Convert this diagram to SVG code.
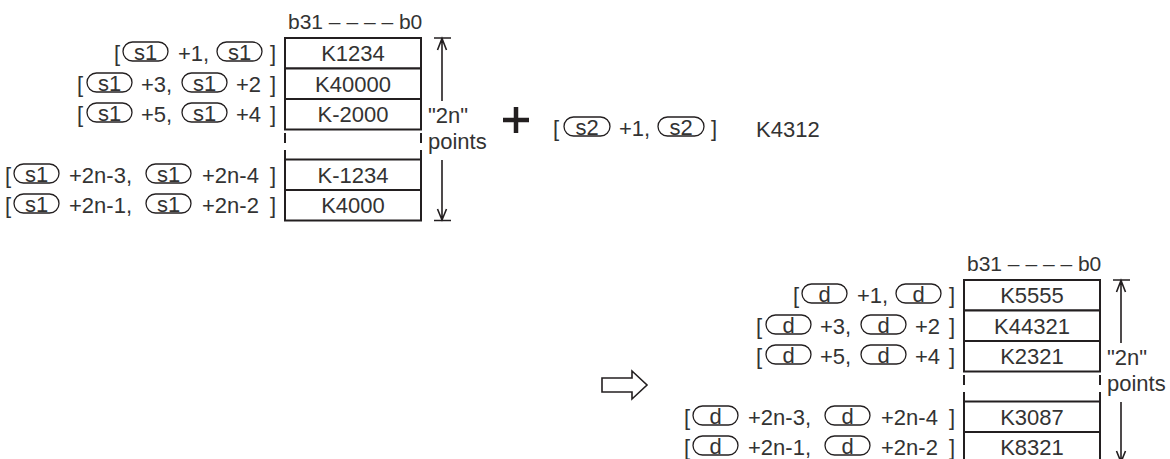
<svg xmlns="http://www.w3.org/2000/svg" width="1170" height="459" viewBox="0 0 1170 459">
<style>
.t{font-family:"Liberation Sans",Arial,Helvetica,sans-serif;font-size:22px;fill:#333}
.h{font-size:21px}
.c{text-anchor:middle}
.box{fill:#fff;stroke:#231f20;stroke-width:2}
.pill{fill:none;stroke:#231f20;stroke-width:1.3}
.ln{fill:none;stroke:#231f20;stroke-width:1.6}
.dl{fill:none;stroke:#231f20;stroke-width:2}
</style>
<rect width="1170" height="459" fill="#fff"/>

<!-- ===== TOP SOURCE BLOCK ===== -->
<g id="s1-table">
  <text class="t h" x="288" y="29">b31 – – – – b0</text>
  <rect class="box" x="285" y="38" width="136" height="30.5"/>
  <rect class="box" x="285" y="68.5" width="136" height="30.5"/>
  <rect class="box" x="285" y="99" width="136" height="30.5"/>
  <path class="dl" d="M285,133V143M285,150V159.5M421,133V143M421,150V159.5"/>
  <rect class="box" x="285" y="159.5" width="136" height="30.5"/>
  <rect class="box" x="285" y="190" width="136" height="30.5"/>
  <text class="t c" x="353" y="61">K1234</text>
  <text class="t c" x="353" y="91.5">K40000</text>
  <text class="t c" x="353" y="122">K-2000</text>
  <text class="t c" x="353" y="182.5">K-1234</text>
  <text class="t c" x="353" y="213">K4000</text>
</g>

<g id="s1-labels">
  <!-- row 1 -->
  <text class="t" x="114" y="61">[</text>
  <rect class="pill" x="123" y="42" width="45" height="19" rx="9.5"/>
  <text class="t c" x="145.5" y="60">s1</text>
  <text class="t" x="178" y="61">+1,</text>
  <rect class="pill" x="217" y="42" width="45" height="19" rx="9.5"/>
  <text class="t c" x="239.5" y="60">s1</text>
  <text class="t" x="270" y="61">]</text>
  <!-- row 2 -->
  <text class="t" x="77" y="91.5">[</text>
  <rect class="pill" x="87" y="73" width="45" height="19" rx="9.5"/>
  <text class="t c" x="109.5" y="91">s1</text>
  <text class="t" x="141" y="91.5">+3,</text>
  <rect class="pill" x="182" y="73" width="45" height="19" rx="9.5"/>
  <text class="t c" x="204.5" y="91">s1</text>
  <text class="t" x="236" y="91.5">+2</text>
  <text class="t" x="270" y="91.5">]</text>
  <!-- row 3 -->
  <text class="t" x="77" y="122">[</text>
  <rect class="pill" x="87" y="103" width="45" height="19" rx="9.5"/>
  <text class="t c" x="109.5" y="121">s1</text>
  <text class="t" x="141" y="122">+5,</text>
  <rect class="pill" x="182" y="103" width="45" height="19" rx="9.5"/>
  <text class="t c" x="204.5" y="121">s1</text>
  <text class="t" x="236" y="122">+4</text>
  <text class="t" x="270" y="122">]</text>
  <!-- row 4 -->
  <text class="t" x="5" y="182.5">[</text>
  <rect class="pill" x="14" y="164" width="45" height="19" rx="9.5"/>
  <text class="t c" x="36.5" y="182">s1</text>
  <text class="t" x="69" y="182.5">+2n-3,</text>
  <rect class="pill" x="146" y="164" width="45" height="19" rx="9.5"/>
  <text class="t c" x="168.5" y="182">s1</text>
  <text class="t" x="202" y="182.5">+2n-4</text>
  <text class="t" x="270" y="182.5">]</text>
  <!-- row 5 -->
  <text class="t" x="5" y="213">[</text>
  <rect class="pill" x="14" y="194" width="45" height="19" rx="9.5"/>
  <text class="t c" x="36.5" y="212">s1</text>
  <text class="t" x="69" y="213">+2n-1,</text>
  <rect class="pill" x="146" y="194" width="45" height="19" rx="9.5"/>
  <text class="t c" x="168.5" y="212">s1</text>
  <text class="t" x="202" y="213">+2n-2</text>
  <text class="t" x="270" y="213">]</text>
</g>

<g id="s1-count">
  <text class="t" x="428" y="123">"2n"</text>
  <text class="t" x="428" y="149">points</text>
</g>

<g id="plus">
  <path d="M516,107V133M503,120H529" fill="none" stroke="#231f20" stroke-width="4.5"/>
</g>

<g id="s2">
  <text class="t" x="553" y="136">[</text>
  <rect class="pill" x="564" y="117" width="46" height="19" rx="9.5"/>
  <text class="t c" x="587" y="135">s2</text>
  <text class="t" x="619" y="136">+1,</text>
  <rect class="pill" x="658" y="117" width="46" height="19" rx="9.5"/>
  <text class="t c" x="681" y="135">s2</text>
  <text class="t" x="711" y="136">]</text>
  <text class="t" x="756" y="137">K4312</text>
</g>

<!-- ===== BOTTOM DESTINATION BLOCK ===== -->
<g transform="translate(679,242)">
<g id="d-table">
  <text class="t h" x="288" y="29">b31 – – – – b0</text>
  <rect class="box" x="285" y="38" width="136" height="30.5"/>
  <rect class="box" x="285" y="68.5" width="136" height="30.5"/>
  <rect class="box" x="285" y="99" width="136" height="30.5"/>
  <path class="dl" d="M285,133V143M285,150V159.5M421,133V143M421,150V159.5"/>
  <rect class="box" x="285" y="159.5" width="136" height="30.5"/>
  <rect class="box" x="285" y="190" width="136" height="30.5"/>
  <text class="t c" x="353" y="61">K5555</text>
  <text class="t c" x="353" y="91.5">K44321</text>
  <text class="t c" x="353" y="122">K2321</text>
  <text class="t c" x="353" y="182.5">K3087</text>
  <text class="t c" x="353" y="213">K8321</text>
</g>

<g id="d-labels">
  <text class="t" x="114" y="61">[</text>
  <rect class="pill" x="123" y="42" width="45" height="19" rx="9.5"/>
  <text class="t c" x="145.5" y="60">d</text>
  <text class="t" x="178" y="61">+1,</text>
  <rect class="pill" x="217" y="42" width="45" height="19" rx="9.5"/>
  <text class="t c" x="239.5" y="60">d</text>
  <text class="t" x="270" y="61">]</text>

  <text class="t" x="77" y="91.5">[</text>
  <rect class="pill" x="87" y="73" width="45" height="19" rx="9.5"/>
  <text class="t c" x="109.5" y="91">d</text>
  <text class="t" x="141" y="91.5">+3,</text>
  <rect class="pill" x="182" y="73" width="45" height="19" rx="9.5"/>
  <text class="t c" x="204.5" y="91">d</text>
  <text class="t" x="236" y="91.5">+2</text>
  <text class="t" x="270" y="91.5">]</text>

  <text class="t" x="77" y="122">[</text>
  <rect class="pill" x="87" y="103" width="45" height="19" rx="9.5"/>
  <text class="t c" x="109.5" y="121">d</text>
  <text class="t" x="141" y="122">+5,</text>
  <rect class="pill" x="182" y="103" width="45" height="19" rx="9.5"/>
  <text class="t c" x="204.5" y="121">d</text>
  <text class="t" x="236" y="122">+4</text>
  <text class="t" x="270" y="122">]</text>

  <text class="t" x="5" y="182.5">[</text>
  <rect class="pill" x="14" y="164" width="45" height="19" rx="9.5"/>
  <text class="t c" x="36.5" y="182">d</text>
  <text class="t" x="69" y="182.5">+2n-3,</text>
  <rect class="pill" x="146" y="164" width="45" height="19" rx="9.5"/>
  <text class="t c" x="168.5" y="182">d</text>
  <text class="t" x="202" y="182.5">+2n-4</text>
  <text class="t" x="270" y="182.5">]</text>

  <text class="t" x="5" y="213">[</text>
  <rect class="pill" x="14" y="194" width="45" height="19" rx="9.5"/>
  <text class="t c" x="36.5" y="212">d</text>
  <text class="t" x="69" y="213">+2n-1,</text>
  <rect class="pill" x="146" y="194" width="45" height="19" rx="9.5"/>
  <text class="t c" x="168.5" y="212">d</text>
  <text class="t" x="202" y="213">+2n-2</text>
  <text class="t" x="270" y="213">]</text>
</g>

<g id="d-count">
  <text class="t" x="428" y="123">"2n"</text>
  <text class="t" x="428" y="149">points</text>
</g>
</g>

<!-- ===== CONNECTORS ===== -->
<g id="connectors">
  <path class="ln" d="M434,38H451M442,38.5V101M437.5,50L442,38.5L446.5,50"/>
  <path class="ln" d="M442,160V220M437.5,209L442,220L446.5,209M434,220.5H451"/>
  <path class="ln" d="M1113,280H1130M1121,280.5V343M1116.5,292L1121,280.5L1125.5,292"/>
  <path class="ln" d="M1121,402V462M1116.5,451L1121,462L1125.5,451M1113,462.5H1130"/>
  <path class="ln" d="M602,378H632V371L647,385L632,399V392H602Z" fill="#fff"/>
</g>
</svg>
